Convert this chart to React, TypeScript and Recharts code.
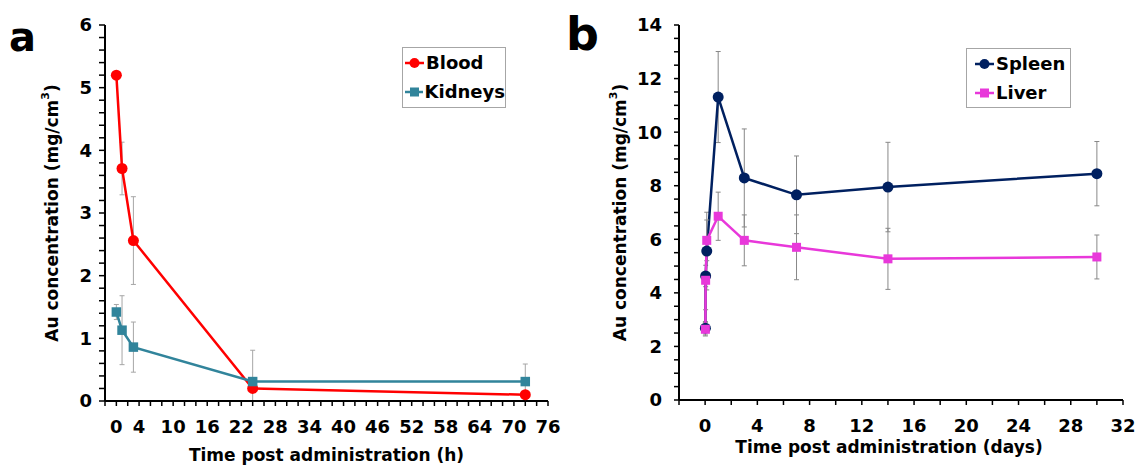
import React from 'react';
import { LineChart, Line, XAxis, YAxis, ErrorBar, Label } from 'recharts';

const FONT = '"DejaVu Sans", Verdana, sans-serif';

// ---------- Panel a (hours) ----------
const hoursA = [0, 1, 3, 24, 72];
const bloodValues = [5.2, 3.71, 2.56, 0.2, 0.1];
const bloodErrLow = [0, 0.42, 0.7, 0, 0];
const bloodErrHigh = [0, 0.42, 0.7, 0, 0];
const kidneyValues = [1.42, 1.13, 0.86, 0.31, 0.31];
const kidneyErrLow = [0.12, 0.55, 0.4, 0.31, 0.28];
const kidneyErrHigh = [0.12, 0.55, 0.4, 0.5, 0.28];

const xLabelsA = [0, 4, 10, 16, 22, 28, 34, 40, 46, 52, 58, 64, 70, 76];
const yLabelsA = [0, 1, 2, 3, 4, 5, 6];

// ---------- Panel b (days) ----------
const daysB = [0.02, 0.04, 0.125, 1, 3, 7, 14, 30];
const spleenValues = [2.68, 4.63, 5.56, 11.31, 8.29, 7.66, 7.95, 8.45];
const spleenErr = [0.25, 0.4, 1.45, 1.7, 1.83, 1.45, 1.67, 1.2];
const liverValues = [2.64, 4.47, 5.96, 6.86, 5.96, 5.7, 5.27, 5.34];
const liverErr = [0.25, 1.1, 0.76, 0.9, 0.95, 1.21, 1.14, 0.82];

const xLabelsB = [0, 4, 8, 12, 16, 20, 24, 28, 32];
const yLabelsB = [0, 2, 4, 6, 8, 10, 12, 14];

// tick position lists (major + minor)
const steps = (from: number, to: number, step: number) => {
  const out: number[] = [];
  const n = Math.round((to - from) / step);
  for (let i = 0; i <= n; i++) out.push(Math.round((from + i * step) * 1000) / 1000);
  return out;
};
const xTicksA = steps(-2, 76, 2);
const yTicksA = steps(0, 6, 0.2);
const xTicksB = steps(-2, 32, 2);
const yTicksB = steps(0, 14, 0.5);

const COLORS = {
  blood: '#FF0000',
  kidneys: '#31849B',
  spleen: '#002060',
  liver: '#E838DA',
  err: '#A6A6A6',
};

type Row = { x: number; y: number; err: [number, number] };
const buildRows = (xs: number[], ys: number[], lo: number[], hi: number[]): Row[] =>
  xs.map((x, i) => ({ x, y: ys[i], err: [lo[i], hi[i]] }));

const bloodRows = buildRows(hoursA, bloodValues, bloodErrLow, bloodErrHigh);
const kidneyRows = buildRows(hoursA, kidneyValues, kidneyErrLow, kidneyErrHigh);
const spleenRows = buildRows(daysB, spleenValues, spleenErr, spleenErr);
const liverRows = buildRows(daysB, liverValues, liverErr, liverErr);

const has = (labels: number[], v: number) => labels.some((l) => Math.abs(l - v) < 1e-6);

const makeXTick = (labels: number[]) => (props: any) => {
  const { x, y, payload } = props;
  const v = payload.value;
  return (
    <text x={x} y={y} dy="0.71em" textAnchor="middle" fontFamily={FONT} fontWeight="bold" fontSize={18} fill="#000">
      {has(labels, v) ? String(v) : ''}
    </text>
  );
};

const makeYTick = (labels: number[]) => (props: any) => {
  const { x, y, payload } = props;
  const v = payload.value;
  return (
    <text x={x} y={y} dy="0.36em" textAnchor="end" fontFamily={FONT} fontWeight="bold" fontSize={18} fill="#000">
      {has(labels, v) ? String(v) : ''}
    </text>
  );
};

const yTitle = (cx: number, cy: number) => () => (
  <text
    x={cx}
    y={cy}
    transform={`rotate(-90, ${cx}, ${cy})`}
    textAnchor="middle"
    dominantBaseline="central"
    fontFamily={FONT}
    fontWeight="bold"
    fontSize={17}
    fill="#000"
  >
    Au concentration (mg/cm<tspan dy={-7} fontSize={11}>3</tspan>
    <tspan dy={7}>)</tspan>
  </text>
);

const xTitle = (cx: number, baseline: number, text: string) => () => (
  <text x={cx} y={baseline} textAnchor="middle" fontFamily={FONT} fontWeight="bold" fontSize={17} fill="#000">
    {text}
  </text>
);

const circleDot = (color: string, r: number) => (props: any) => {
  const { cx, cy, index } = props;
  return <circle key={`c-${index}`} cx={cx} cy={cy} r={r} fill={color} stroke="none" />;
};
const squareDot = (color: string, s: number) => (props: any) => {
  const { cx, cy, index } = props;
  return <rect key={`s-${index}`} x={cx - s / 2} y={cy - s / 2} width={s} height={s} fill={color} stroke="none" />;
};

const axisLine = { stroke: '#000', strokeWidth: 2 };
const tickLine = { stroke: '#000', strokeWidth: 1.5 };

const LegendBox = ({
  left,
  top,
  width,
  padLeft,
  rowH,
  items,
}: {
  left: number;
  top: number;
  width: number;
  padLeft: number;
  rowH: number;
  items: { name: string; color: string; shape: 'circle' | 'square' }[];
}) => (
  <div
    style={{
      position: 'absolute',
      left,
      top,
      width,
      boxSizing: 'border-box',
      border: '1px solid #A6A6A6',
      background: '#fff',
      paddingLeft: padLeft,
    }}
  >
    {items.map((it) => (
      <div key={it.name} style={{ height: rowH, display: 'flex', alignItems: 'center' }}>
        <svg width={19} height={14} style={{ display: 'block', marginRight: 2 }}>
          <line x1={0} y1={7} x2={19} y2={7} stroke={it.color} strokeWidth={2.5} />
          {it.shape === 'circle' ? (
            <circle cx={9.5} cy={7} r={5} fill={it.color} />
          ) : (
            <rect x={5} y={2.5} width={9} height={9} fill={it.color} />
          )}
        </svg>
        <span style={{ fontFamily: FONT, fontWeight: 'bold', fontSize: 18, color: '#000', lineHeight: '20px' }}>
          {it.name}
        </span>
      </div>
    ))}
  </div>
);

export default function App() {
  return (
    <div style={{ position: 'absolute', left: 0, top: 0, width: 1143, height: 476, background: '#fff', overflow: 'hidden' }}>
      {/* Panel a */}
      <div style={{ position: 'absolute', left: 0, top: 0 }}>
        <LineChart width={570} height={476} margin={{ top: 25, right: 22, bottom: 45, left: 45 }}>
          <XAxis
            type="number"
            dataKey="x"
            domain={[-2, 76]}
            ticks={xTicksA}
            interval={0}
            allowDataOverflow
            height={30}
            tickSize={5}
            tickMargin={14}
            axisLine={axisLine}
            tickLine={tickLine}
            tick={makeXTick(xLabelsA)}
          >
            <Label content={xTitle(326.5, 461, 'Time post administration (h)')} />
          </XAxis>
          <YAxis
            type="number"
            domain={[0, 6]}
            ticks={yTicksA}
            interval={0}
            allowDataOverflow
            width={60}
            tickSize={6}
            tickMargin={7}
            axisLine={axisLine}
            tickLine={tickLine}
            tick={makeYTick(yLabelsA)}
          >
            <Label content={yTitle(52, 213)} />
          </YAxis>
          <Line
            data={bloodRows}
            dataKey="y"
            name="Blood"
            stroke={COLORS.blood}
            strokeWidth={2.5}
            dot={circleDot(COLORS.blood, 5.5)}
            activeDot={false}
            isAnimationActive={false}
          >
            <ErrorBar dataKey="err" direction="y" width={2.5} stroke={COLORS.err} strokeWidth={1} isAnimationActive={false} />
          </Line>
          <Line
            data={kidneyRows}
            dataKey="y"
            name="Kidneys"
            stroke={COLORS.kidneys}
            strokeWidth={2.5}
            dot={squareDot(COLORS.kidneys, 9.5)}
            activeDot={false}
            isAnimationActive={false}
          >
            <ErrorBar dataKey="err" direction="y" width={2.5} stroke={COLORS.err} strokeWidth={1} isAnimationActive={false} />
          </Line>
        </LineChart>
      </div>

      {/* Panel b */}
      <div style={{ position: 'absolute', left: 570, top: 0 }}>
        <LineChart width={573} height={476} margin={{ top: 25, right: 20, bottom: 46, left: 49 }}>
          <XAxis
            type="number"
            dataKey="x"
            domain={[-2, 32]}
            ticks={xTicksB}
            interval={0}
            allowDataOverflow
            height={30}
            tickSize={5}
            tickMargin={14}
            axisLine={axisLine}
            tickLine={tickLine}
            tick={makeXTick(xLabelsB)}
          >
            <Label content={xTitle(319, 453, 'Time post administration (days)')} />
          </XAxis>
          <YAxis
            type="number"
            domain={[0, 14]}
            ticks={yTicksB}
            interval={0}
            allowDataOverflow
            width={60}
            tickSize={5}
            tickMargin={12}
            axisLine={axisLine}
            tickLine={tickLine}
            tick={makeYTick(yLabelsB)}
          >
            <Label content={yTitle(50, 212.5)} />
          </YAxis>
          <Line
            data={spleenRows}
            dataKey="y"
            name="Spleen"
            stroke={COLORS.spleen}
            strokeWidth={2.5}
            dot={circleDot(COLORS.spleen, 5.5)}
            activeDot={false}
            isAnimationActive={false}
          >
            <ErrorBar dataKey="err" direction="y" width={2.5} stroke="#888" strokeWidth={1} isAnimationActive={false} />
          </Line>
          <Line
            data={liverRows}
            dataKey="y"
            name="Liver"
            stroke={COLORS.liver}
            strokeWidth={2.5}
            dot={squareDot(COLORS.liver, 9)}
            activeDot={false}
            isAnimationActive={false}
          >
            <ErrorBar dataKey="err" direction="y" width={2.5} stroke="#888" strokeWidth={1} isAnimationActive={false} />
          </Line>
        </LineChart>
      </div>

      {/* Panel letters */}
      <svg width={1143} height={70} style={{ position: 'absolute', left: 0, top: 0, pointerEvents: 'none' }}>
        <text x={9} y={51} fontFamily={FONT} fontWeight="bold" fontSize={40} fill="#000">a</text>
        <text x={566} y={50} fontFamily={FONT} fontWeight="bold" fontSize={46} fill="#000">b</text>
      </svg>

      <LegendBox
        left={402}
        top={47}
        width={104}
        padLeft={2}
        rowH={29.3}
        items={[
          { name: 'Blood', color: COLORS.blood, shape: 'circle' },
          { name: 'Kidneys', color: COLORS.kidneys, shape: 'square' },
        ]}
      />
      <LegendBox
        left={966}
        top={48}
        width={105}
        padLeft={8}
        rowH={29}
        items={[
          { name: 'Spleen', color: COLORS.spleen, shape: 'circle' },
          { name: 'Liver', color: COLORS.liver, shape: 'square' },
        ]}
      />
    </div>
  );
}
